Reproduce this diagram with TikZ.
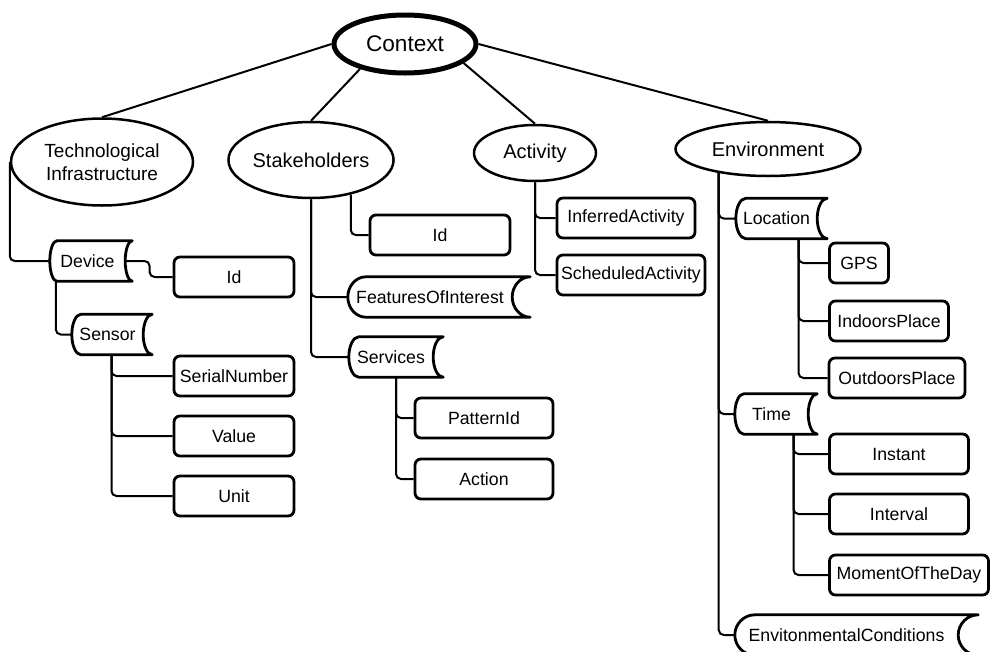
\documentclass[tikz,border=0pt]{standalone}
\usepackage{fontspec}
\setmainfont{Liberation Sans}
\usetikzlibrary{calc,shapes.geometric}

\begin{document}
\begin{tikzpicture}[x=1pt,y=-1pt,
  topic/.style={draw,ellipse,line width=2.5pt,inner sep=0pt,font=\fontsize{20}{22}\selectfont},
  leaf/.style={draw,rounded corners=6pt,line width=2.8pt,minimum height=40pt,inner sep=0pt,font=\fontsize{17.7}{20}\selectfont},
  store/.style={minimum height=40pt,inner sep=0pt,font=\fontsize{17.7}{20}\selectfont},
  link/.style={line width=2pt,rounded corners=5pt}]
\useasboundingbox (0,0) rectangle (992,651);

% top and first level
\node[topic,line width=5pt,minimum width=142pt,minimum height=58pt,font=\fontsize{22.6}{24}\selectfont] (ctx) at (405,44) {Context};
\node[topic,minimum width=182pt,minimum height=87pt,align=center,font=\fontsize{19}{23}\selectfont] (tech) at (102,162) {Technological\\Infrastructure};
\node[topic,minimum width=155pt,minimum height=76pt] (stake) at (311,160) {Stakeholders};
\node[topic,minimum width=122pt,minimum height=56pt] (activ) at (535,153) {Activity};
\node[topic,minimum width=185pt,minimum height=54pt] (envir) at (768,149) {Environment};

% stored data boxes
\node[store,minimum width=75pt] (device) at (87.5,261) {Device};
\node[store,minimum width=71pt] (sensor) at (107.5,334.5) {Sensor};
\node[store,minimum width=164pt] (feat) at (430,297) {FeaturesOfInterest};
\node[store,minimum width=84pt] (serv) at (391,357) {Services};
\node[store,minimum width=81pt] (loc) at (776.5,218.5) {Location};
\node[store,minimum width=73pt] (time) at (771.5,414) {Time};
\node[store,minimum width=223pt] (envcond) at (846.5,635) {EnvitonmentalConditions};
\foreach \n/\d in {device/7,sensor/9,feat/18,serv/10,loc/10,time/9,envcond/20}
  \draw[line width=2.8pt,line join=round] ($(\n.south west)+(\d,0)$) .. controls +(-0.55*\d,0) and +(0,11) .. (\n.west)
    .. controls +(0,-11) and +(-0.55*\d,0) .. ($(\n.north west)+(\d,0)$) -- ($(\n.north east)+(\d,0)$)
    .. controls +(-0.55*\d,0) and +(0,-11) .. (\n.east) .. controls +(0,11) and +(-0.55*\d,0) .. ($(\n.south east)+(\d,0)$) -- cycle;

% leaves
\node[leaf,minimum width=120pt] (techid) at (234,277) {Id};
\node[leaf,minimum width=120pt] (serial) at (234,376) {SerialNumber};
\node[leaf,minimum width=120pt] (value) at (234,436) {Value};
\node[leaf,minimum width=120pt] (unit) at (234,496) {Unit};
\node[leaf,minimum width=140pt] (stakeid) at (440,235) {Id};
\node[leaf,minimum width=138pt] (pattern) at (484,418) {PatternId};
\node[leaf,minimum width=138pt] (action) at (484,479) {Action};
\node[leaf,minimum width=138pt] (inferred) at (626,218) {InferredActivity};
\node[leaf,minimum width=148pt] (scheduled) at (631,275) {ScheduledActivity};
\node[leaf,minimum width=59pt] (gps) at (859,263) {GPS};
\node[leaf,minimum width=119pt] (indoors) at (889,321) {IndoorsPlace};
\node[leaf,minimum width=136pt] (outdoors) at (897,378) {OutdoorsPlace};
\node[leaf,minimum width=139pt] (instant) at (899,454) {Instant};
\node[leaf,minimum width=139pt] (interval) at (899,514) {Interval};
\node[leaf,minimum width=159pt] (moment) at (909,575) {MomentOfTheDay};

% connectors
\draw[link] (ctx.west) -- (tech.north);
\draw[link] (ctx.209) -- (stake.north);
\draw[link] (ctx.-18) -- (activ.north);
\draw[link] (ctx.east) -- (envir.north);

\draw[link] (tech.west) |- (device.west);
\draw[link] (device.east) -| ($(techid.west)+(-23,0)$) -- (techid.west);
\draw[link] ($(device.south west)+(6,0)$) |- (sensor.west);
\foreach \m in {serial,value,unit}
  \draw[link] ($(sensor.south)+(4,0)$) |- (\m.west);

\draw[link] (stake.-41) |- (stakeid.west);
\foreach \m in {feat,serv}
  \draw[link] (stake.south) |- (\m.west);
\foreach \m in {pattern,action}
  \draw[link] ($(serv.south)+(5,0)$) |- (\m.west);

\foreach \m in {inferred,scheduled}
  \draw[link] (activ.south) |- (\m.west);

\foreach \m in {loc,time,envcond}
  \draw[link] (envir.206) |- (\m.west);
\foreach \m in {gps,indoors,outdoors}
  \draw[link] ($(loc.south)+(22,0)$) |- (\m.west);
\foreach \m in {instant,interval,moment}
  \draw[link] ($(time.south)+(22,0)$) |- (\m.west);
\end{tikzpicture}
\end{document}
